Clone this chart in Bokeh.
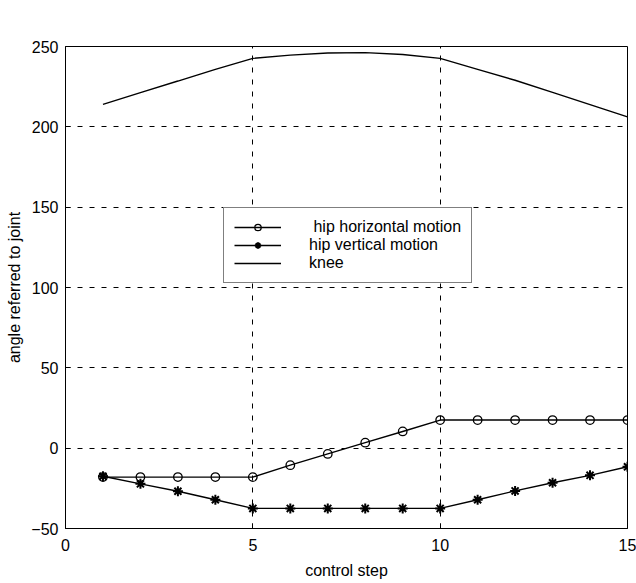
from bokeh.plotting import figure
from bokeh.models import Range1d, FixedTicker, Legend, LegendItem, ColumnDataSource
from bokeh.embed import file_html
from bokeh.resources import INLINE

steps = list(range(1, 16))
hip_horizontal = [-18, -18, -18, -18, -18, -10.6, -3.6, 3.4, 10.4, 17.5, 17.5, 17.5, 17.5, 17.5, 17.5]
hip_vertical = [-17.5, -22.2, -26.8, -32.1, -37.5, -37.5, -37.5, -37.5, -37.5, -37.5, -32.1, -26.6, -21.5, -16.9, -11.6]
knee = [214, 221.3, 228.5, 235.8, 242.6, 244.6, 246, 246.2, 245, 242.6, 235.8, 229, 221.4, 213.8, 206.2]
x_ticks = [0, 5, 10, 15]
y_ticks = [-50, 0, 50, 100, 150, 200, 250]
labels = [" hip horizontal motion", "hip vertical motion", "knee"]

FONT = "Liberation Sans"

p = figure(width=636, height=583, output_backend="svg", toolbar_location=None,
           x_range=Range1d(0, 15), y_range=Range1d(-50, 250),
           min_border_left=65, min_border_right=9, min_border_top=46, min_border_bottom=55)

p.outline_line_color = "black"
p.outline_line_width = 1
p.outline_line_alpha = 1

for ax in (p.xaxis[0], p.yaxis[0]):
    ax.axis_line_color = "black"
    ax.major_tick_in = 5
    ax.major_tick_out = 0
    ax.minor_tick_in = 0
    ax.minor_tick_out = 0
    ax.major_tick_line_color = "black"
    ax.major_label_text_font = FONT
    ax.major_label_text_font_size = "16px"
    ax.major_label_text_color = "black"
    ax.axis_label_text_font = FONT
    ax.axis_label_text_font_size = "16px"
    ax.axis_label_text_font_style = "normal"
    ax.axis_label_text_color = "black"

p.xaxis.ticker = FixedTicker(ticks=x_ticks)
p.yaxis.ticker = FixedTicker(ticks=y_ticks)
p.xaxis.axis_label = "control step"
p.yaxis.axis_label = "angle referred to joint"
p.xaxis.major_label_standoff = 10
p.xaxis.axis_label_standoff = 8
p.yaxis.major_label_standoff = 7
p.yaxis.axis_label_standoff = 5

for g in (p.xgrid[0], p.ygrid[0]):
    g.grid_line_color = "black"
    g.grid_line_dash = "5 7"
    g.grid_line_width = 1
p.xgrid.ticker = FixedTicker(ticks=[5, 10])
p.ygrid.ticker = FixedTicker(ticks=[0, 50, 100, 150, 200])

src = ColumnDataSource(dict(x=steps, hh=hip_horizontal, hv=hip_vertical, kn=knee))

l1 = p.line("x", "hh", source=src, line_color="black", line_width=1.4)
s1 = p.scatter("x", "hh", source=src, marker="circle", size=8.5, fill_color=None,
               line_color="black", line_width=1.3)
l2 = p.line("x", "hv", source=src, line_color="black", line_width=1.4)
s2 = p.scatter("x", "hv", source=src, marker="asterisk", size=10,
               line_color="black", line_width=2)
l3 = p.line("x", "kn", source=src, line_color="black", line_width=1.4)

legend = Legend(items=[LegendItem(label=labels[0], renderers=[l1, s1]),
                       LegendItem(label=labels[1], renderers=[l2, s2]),
                       LegendItem(label=labels[2], renderers=[l3])],
                location=(158, 245))
legend.label_text_font = FONT
legend.label_text_font_size = "16px"
legend.label_text_color = "black"
legend.border_line_color = "black"
legend.border_line_width = 1
legend.background_fill_color = "white"
legend.background_fill_alpha = 1
legend.glyph_width = 47
legend.glyph_height = 16
legend.label_height = 16
legend.label_standoff = 28
legend.spacing = 0
legend.padding = 10
legend.margin = 0
p.add_layout(legend, "center")

open("out.html", "w").write(file_html(p, INLINE))
